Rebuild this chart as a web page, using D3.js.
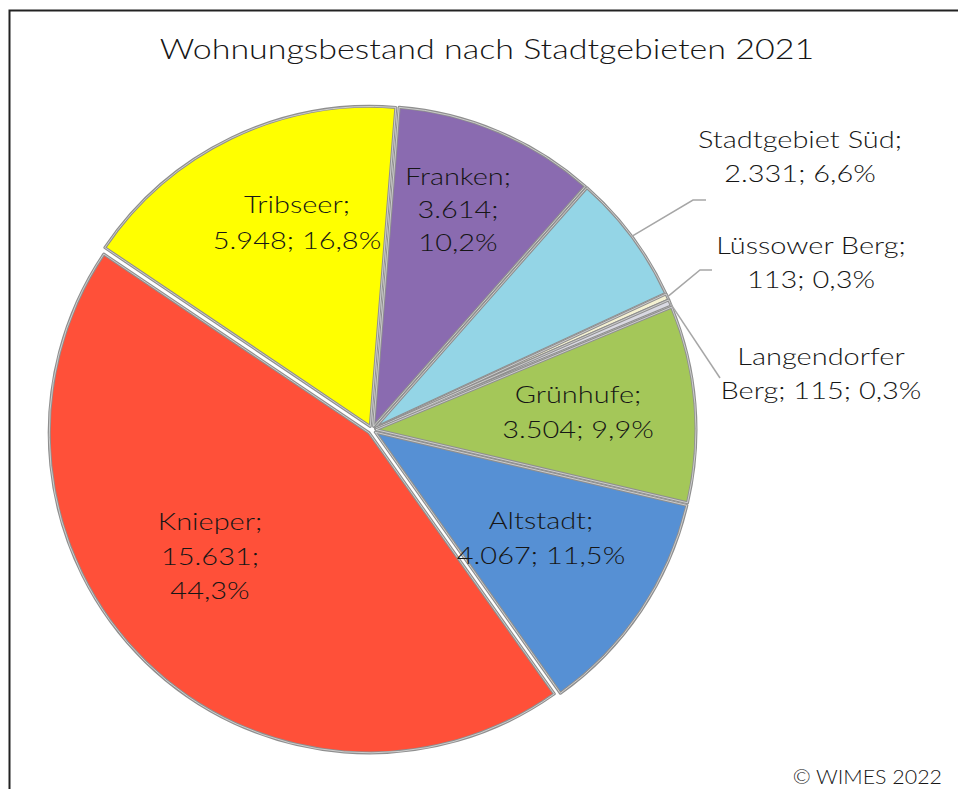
<!DOCTYPE html>
<html>
<head>
<meta charset="utf-8">
<script src="https://cdn.jsdelivr.net/npm/d3@7"></script>
<style>
  html, body { margin: 0; padding: 0; background: #fff; }
  svg { display: block; }
  text { font-family: "Lato", "Open Sans", sans-serif; fill: #161616; }
</style>
</head>
<body>
<svg id="chart" width="958" height="789"></svg>
<script>
// ---- data ----
const title = "Wohnungsbestand nach Stadtgebieten 2021";
const categories = ["Franken", "Stadtgebiet Süd", "Lüssower Berg", "Langendorfer Berg", "Grünhufe", "Altstadt", "Knieper", "Tribseer"];
const values = [3614, 2331, 113, 115, 3504, 4067, 15631, 5948];
const colors = ["#8a6bb0", "#94d5e6", "#f4f1d2", "#d9d9e2", "#a4c759", "#5690d4", "#ff5039", "#ffff00"];
const copyright = "© WIMES 2022";

// ---- layout ----
const W = 958, H = 789;
const cx = 372, cy = 430, R = 320, explode = 4;
const startAngle = 0.08;
const stretch = 1.26;   // horizontal stretch to mimic the wide geometric typeface
// label line breaks and centers (layout)
const labelLayout = {
  "Franken":            {x: 458, y: 177, dy: 33,   lines: ["Franken;", "3.614;", "10,2%"]},
  "Stadtgebiet Süd":    {x: 800, y: 140, dy: 33.5, lines: ["Stadtgebiet Süd;", "2.331; 6,6%"]},
  "Lüssower Berg":      {x: 811, y: 246, dy: 33.5, lines: ["Lüssower Berg;", "113; 0,3%"]},
  "Langendorfer Berg":  {x: 821, y: 357, dy: 33.5, lines: ["Langendorfer", "Berg; 115; 0,3%"]},
  "Grünhufe":           {x: 578, y: 395, dy: 34.5, lines: ["Grünhufe;", "3.504; 9,9%"]},
  "Altstadt":           {x: 541, y: 521, dy: 34.5, lines: ["Altstadt;", "4.067; 11,5%"]},
  "Knieper":            {x: 210, y: 522, dy: 34.5, lines: ["Knieper;", "15.631;", "44,3%"]},
  "Tribseer":           {x: 297, y: 205, dy: 36,   lines: ["Tribseer;", "5.948; 16,8%"]}
};
// leader lines for outside labels: elbow point and end (layout)
const leaderLayout = {
  "Stadtgebiet Süd":   [[693, 200], [706, 200]],
  "Lüssower Berg":     [[700, 270], [712, 270]],
  "Langendorfer Berg": [[720, 378], [720, 378]]
};

const svg = d3.select("#chart");

function addText(x, y, lines, size, anchor, sx, lh) {
  const g = svg.append("g").attr("transform", `translate(${x},${y}) scale(${sx},1)`);
  const t = g.append("text")
    .attr("text-anchor", anchor)
    .style("font-size", size + "px")
    .style("font-weight", 300);
  lines.forEach((ln, i) => {
    t.append("tspan").attr("x", 0).attr("y", i * (lh || 0)).attr("dy", "0.35em").text(ln);
  });
  return t;
}

// frame
svg.append("rect")
  .attr("x", 9.5).attr("y", 10.5)
  .attr("width", 1200).attr("height", 1200)
  .attr("fill", "none").attr("stroke", "#222").attr("stroke-width", 2);

// title
addText(487, 50, [title], 27, "middle", stretch, 0);

const data = categories.map((c, i) => ({name: c, value: values[i], color: colors[i]}));
const pie = d3.pie().value(d => d.value).sort(null)
  .startAngle(startAngle).endAngle(startAngle + 2 * Math.PI);
const arcs = pie(data);
const arc = d3.arc().innerRadius(0).outerRadius(R);

const g = svg.append("g").attr("transform", `translate(${cx},${cy})`);

const slices = g.selectAll("g.slice").data(arcs).join("g")
  .attr("class", "slice")
  .attr("transform", d => {
    const a = (d.startAngle + d.endAngle) / 2;
    return `translate(${Math.sin(a) * explode},${-Math.cos(a) * explode})`;
  });

slices.append("path")
  .attr("d", arc)
  .attr("fill", d => d.data.color)
  .attr("stroke", "#8f8f8f")
  .attr("stroke-width", 3)
  .attr("stroke-linejoin", "round");
slices.append("path")
  .attr("d", arc)
  .attr("fill", "none")
  .attr("stroke", "rgba(255,255,255,0.55)")
  .attr("stroke-width", 1)
  .attr("stroke-linejoin", "round");

// leader lines
arcs.forEach(d => {
  const L = leaderLayout[d.data.name];
  if (!L) return;
  const a = (d.startAngle + d.endAngle) / 2;
  const p0 = [cx + Math.sin(a) * (R + explode), cy - Math.cos(a) * (R + explode)];
  svg.append("polyline")
    .attr("points", [p0, ...L].map(p => p.join(",")).join(" "))
    .attr("fill", "none")
    .attr("stroke", "#a6a6a6")
    .attr("stroke-width", 1.5);
});

// labels
arcs.forEach(d => {
  const lay = labelLayout[d.data.name];
  addText(lay.x, lay.y, lay.lines, 23, "middle", stretch, lay.dy);
});

// copyright
addText(942, 777, [copyright], 20, "end", 1.07, 0);
</script>
</body>
</html>
